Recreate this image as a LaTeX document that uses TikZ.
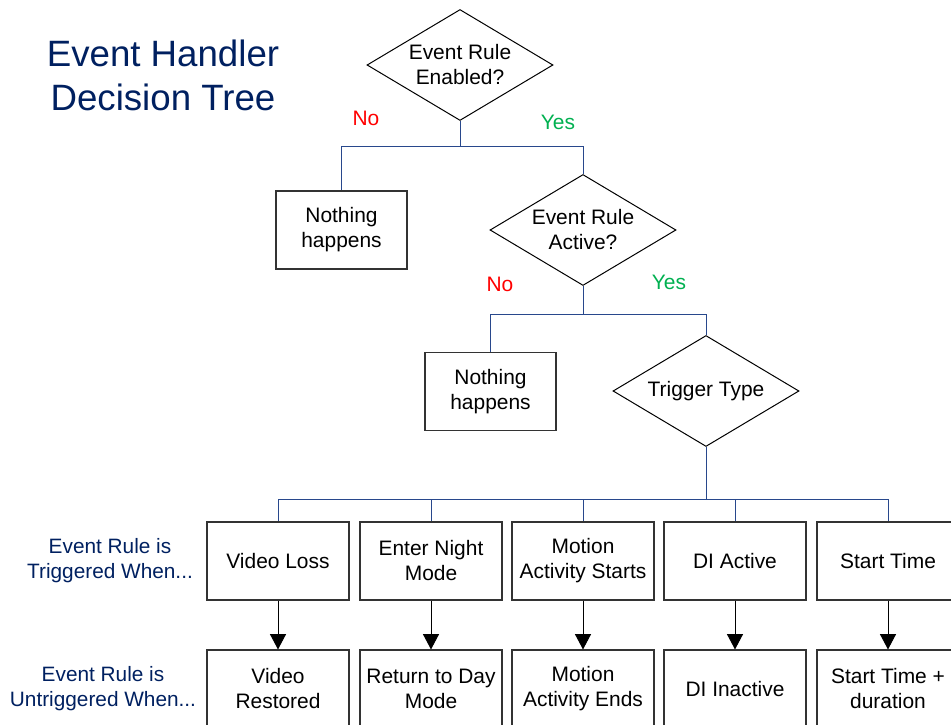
\documentclass[tikz,border=0pt]{standalone}
\usepackage{fontspec}
\setmainfont{Liberation Sans}
\usetikzlibrary{shapes.geometric,arrows.meta}

\definecolor{navy}{RGB}{0,32,96}
\definecolor{treeblue}{RGB}{40,72,140}
\definecolor{nored}{RGB}{255,0,0}
\definecolor{yesgreen}{RGB}{0,176,80}

\tikzset{
  decision/.style={diamond, draw=black, line width=0.75pt, inner sep=0pt,
    minimum width=139.5pt, minimum height=83.25pt, aspect=1.68, align=center,
    font=\fontsize{15.7}{18.75}\selectfont},
  result/.style={rectangle, draw=black!80, line width=0.8pt, inner sep=0pt,
    minimum width=98.25pt, minimum height=58.5pt, align=center,
    font=\fontsize{15.7}{18.75}\selectfont},
  event/.style={result, minimum width=106.5pt},
  rowlabel/.style={text=navy, align=center, font=\fontsize{15.6}{18.75}\selectfont},
  answer/.style={font=\fontsize{15.7}{18.75}\selectfont},
  branch/.style={draw=treeblue, line width=0.75pt},
  follows/.style={draw=black, line width=0.75pt, -{Triangle[length=11.5pt,width=12pt]}}
}

\begin{document}
\begin{tikzpicture}[x=0.75pt, y=-0.75pt]
     \useasboundingbox (0,0) rectangle (951,725);
     \clip (0,0) rectangle (951,725);

     % title
     \node[text=navy, align=center, font=\fontsize{27.5}{33}\selectfont] (title) at (163,75)
          {Event Handler\\Decision Tree};

     % decisions
     \node[decision] (enabled) at (460,65) {Event Rule\\Enabled?};
     \node[result] (nothingA) at (341.5,230) {Nothing\\happens};
     \node[decision] (active) at (583,230) {Event Rule\\Active?};
     \node[result] (nothingB) at (490.5,391.5) {Nothing\\happens};
     \node[decision] (trigger) at (706,391) {Trigger Type};

     \node[answer, text=nored] (noA) at (366,118) {No};
     \node[answer, text=yesgreen] (yesA) at (558,122) {Yes};
     \node[answer, text=nored] (noB) at (500,284) {No};
     \node[answer, text=yesgreen] (yesB) at (669,282) {Yes};

     \coordinate (forkA) at (460,146);
     \coordinate (forkB) at (583,314);
     \coordinate (forkC) at (706,499);
     \draw[branch] (enabled.south) -- (forkA) -| (nothingA.north);
     \draw[branch] (forkA) -| (active.north);
     \draw[branch] (active.south) -- (forkB) -| (nothingB.north);
     \draw[branch] (forkB) -| (trigger.north);
     \draw[branch] (trigger.south) -- (forkC);

     % row labels
     \node[rowlabel] (trigRow) at (110,561) {Event Rule is\\Triggered When...};
     \node[rowlabel] (untrigRow) at (103,689) {Event Rule is\\Untriggered When...};

     % trigger / untrigger pairs
     \foreach \x/\on/\off [count=\i] in {
          278/Video Loss/Video\\Restored,
          431/Enter Night\\Mode/Return to Day\\Mode,
          583/Motion\\Activity Starts/Motion\\Activity Ends,
          735/DI Active/DI Inactive,
          888/Start Time/Start Time +\\duration} {
       \node[event] (on\i) at (\x,561) {\on};
       \node[event] (off\i) at (\x,689) {\off};
       \draw[branch] (forkC) -| (on\i.north);
       \draw[follows] (on\i.south) -- (off\i.north);
     }
\end{tikzpicture}
\end{document}
